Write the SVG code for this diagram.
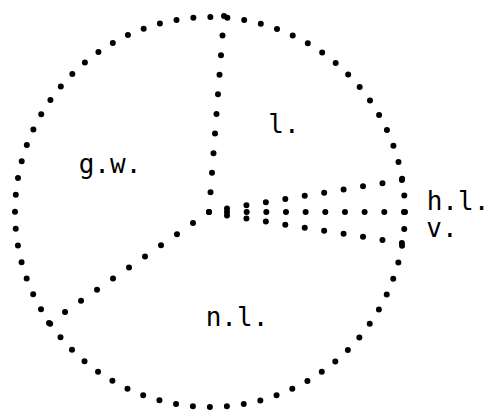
<svg xmlns="http://www.w3.org/2000/svg" width="489" height="410" viewBox="0 0 489 410">
  <style>
    .dots { fill: none; stroke: #000; stroke-width: 6; stroke-linecap: round; }
    .lbl { font-family: "DejaVu Sans Mono", "Liberation Mono", monospace; font-size: 26px; fill: #000; text-anchor: middle; }
  </style>
  <rect width="489" height="410" fill="#fff"/>
  <g id="outline">
    <circle class="dots" cx="210" cy="212" r="195" stroke-dasharray="0 17.0167"/>
  </g>
  <g id="connectors">
    <line class="dots" x1="224" y1="16" x2="209" y2="212" stroke-dasharray="0 19.65"/>
    <line class="dots" x1="209" y1="212" x2="49" y2="323" stroke-dasharray="0 19.47"/>
    <line class="dots" x1="227" y1="208.5" x2="402" y2="180" stroke-dasharray="0 19.69"/>
    <line class="dots" x1="227" y1="212" x2="404" y2="212" stroke-dasharray="0 19.66"/>
    <line class="dots" x1="227" y1="215.5" x2="402" y2="243" stroke-dasharray="0 19.67"/>
  </g>
  <g id="node-l"><text class="lbl" x="284" y="133">l.</text></g>
  <g id="node-gw"><text class="lbl" x="110" y="173">g.w.</text></g>
  <g id="node-nl"><text class="lbl" x="237" y="326">n.l.</text></g>
  <g id="node-hl"><text class="lbl" x="458" y="210">h.l.</text></g>
  <g id="node-v"><text class="lbl" x="442" y="237">v.</text></g>
</svg>
